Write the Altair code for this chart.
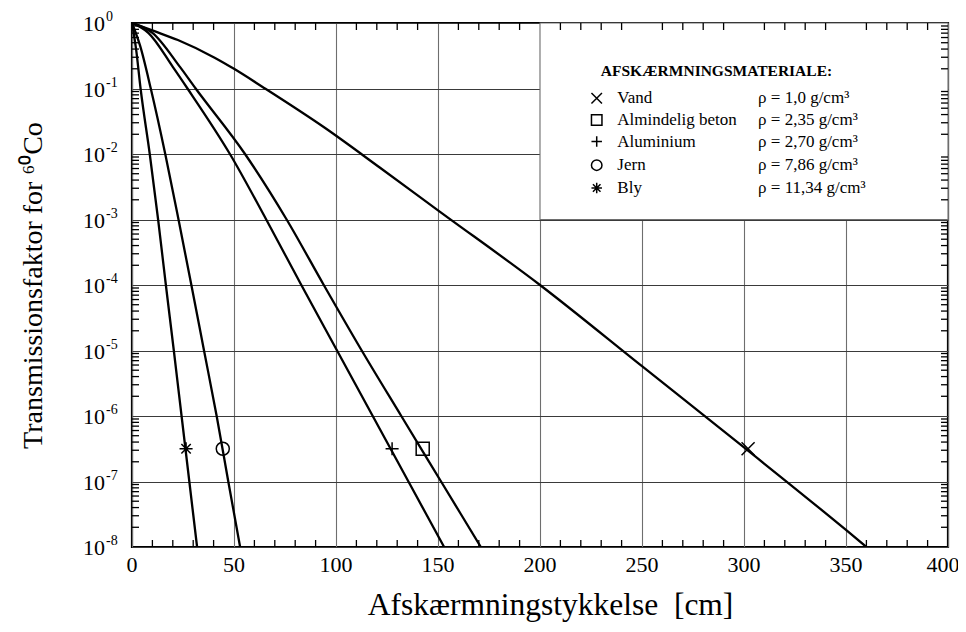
import altair as alt
import pandas as pd

# ---------------- data ----------------
materials = ["Vand", "Almindelig beton", "Aluminium", "Jern", "Bly"]
densities = ["ρ = 1,0 g/cm³", "ρ = 2,35 g/cm³", "ρ = 2,70 g/cm³",
             "ρ = 7,86 g/cm³", "ρ = 11,34 g/cm³"]

# thickness [cm] and log10(transmission)
vand_x = [0, 11, 22.5, 40.5, 50, 64.2, 94.5, 121.6, 150, 200, 250, 300, 350, 360]
vand_log = [0, -0.125, -0.26, -0.53, -0.7, -0.98, -1.6, -2.21, -2.86, -4, -5.24, -6.48, -7.74, -8]

beton_x = [0, 10, 23.5, 31.2, 55.4, 75.8, 94, 112.6, 132, 151.5, 171]
beton_log = [0, -0.15, -0.67, -1, -2, -3, -4, -5, -6, -7, -8]

alu_x = [0, 8, 20, 27.2, 48, 65.8, 83, 100.5, 118, 135.5, 153]
alu_log = [0, -0.15, -0.67, -1, -2, -3, -4, -5, -6, -7, -8]

jern_x = [0, 4, 9.2, 16.3, 22.8, 29.1, 35.3, 41.5, 47.2, 53]
jern_log = [0, -0.35, -1, -2, -3, -4, -5, -6, -7, -8]

bly_x = [0, 2, 4.2, 8.7, 12.8, 16.6, 20.5, 24.3, 28.1, 31.9]
bly_log = [0, -0.4, -1, -2, -3, -4, -5, -6, -7, -8]

marker_x = [302, 142.5, 127.5, 44.5, 26.5]
marker_log = [-6.5, -6.5, -6.5, -6.5, -6.5]

x_ticks = [0, 50, 100, 150, 200, 250, 300, 350, 400]
x_minor = [v for v in range(10, 400, 10) if v % 50 != 0]
y_decades = [0, -1, -2, -3, -4, -5, -6, -7, -8]
y_label_base = ["10"] * 9
y_label_exp = ["0", "-1", "-2", "-3", "-4", "-5", "-6", "-7", "-8"]

# legend placement in data coordinates (cm, log10 T)
leg_title_pos = (286.5, -0.74)
leg_sym_x = 227.8
leg_name_x = 237.9
leg_rho_x = 306.9
leg_rows_log = [-1.15, -1.48, -1.81, -2.17, -2.52]

# ---------------- tables ----------------
series = {"Vand": (vand_x, vand_log), "Almindelig beton": (beton_x, beton_log),
          "Aluminium": (alu_x, alu_log), "Jern": (jern_x, jern_log),
          "Bly": (bly_x, bly_log)}
rows = []
for m, (xs, ls) in series.items():
    for i, (xv, lv) in enumerate(zip(xs, ls)):
        rows.append({"material": m, "x": xv, "T": 10 ** lv, "order": i})
lines_df = pd.DataFrame(rows)

markers_df = pd.DataFrame({"material": materials, "x": marker_x,
                           "T": [10 ** v for v in marker_log]})

legend_df = pd.DataFrame({"material": materials, "rho": densities,
                          "T": [10 ** v for v in leg_rows_log],
                          "xs": [leg_sym_x] * 5, "xn": [leg_name_x] * 5,
                          "xr": [leg_rho_x] * 5})

minor_y = []
for d in y_decades[1:]:
    for k in range(2, 10):
        minor_y.append(k * 10 ** d)
yt_df = pd.DataFrame({"T": minor_y})
xt_df = pd.DataFrame({"x": x_minor})
box_df = pd.DataFrame({"x": [200], "x2": [400], "T": [1e-3], "T2": [1.0]})
title_df = pd.DataFrame({"x": [leg_title_pos[0]], "T": [10 ** leg_title_pos[1]],
                         "t": ["AFSKÆRMNINGSMATERIALE:"]})
xlab_df = pd.DataFrame({"x": x_ticks[:-1], "t": [str(v) for v in x_ticks[:-1]]})
xlab_last_df = pd.DataFrame({"x": x_ticks[-1:], "t": [str(v) for v in x_ticks[-1:]]})
ylab_df = pd.DataFrame({"T": [10 ** d for d in y_decades], "base": y_label_base,
                        "exp": y_label_exp})

# ---------------- scales / axes ----------------
FONT = "Liberation Serif"
W, H = 816, 524
xscale = alt.Scale(domain=[0, 400], nice=False, zero=False)
yscale = alt.Scale(type="log", domain=[1e-8, 1], nice=False)

xaxis = alt.Axis(values=x_ticks, grid=True, gridColor="#6e6e6e", gridWidth=1.1,
                 ticks=False, domain=False, labels=False,
                 title="Afskærmningstykkelse\u00a0 [cm]", titleFont=FONT,
                 titleFontSize=31.5, titleFontWeight="normal", titleColor="black",
                 titleX=W / 2 + 10, titleY=58, titleBaseline="middle",
                 titleAlign="center")
yaxis = alt.Axis(values=[10 ** d for d in y_decades], grid=True, gridColor="#3a3a3a",
                 gridWidth=1.1, ticks=False, domain=False, labels=False,
                 title="Transmissionsfaktor for ⁶⁰Co", titleFont=FONT,
                 titleFontSize=28, titleFontWeight="normal", titleColor="black",
                 titleAngle=270, titleX=-99, titleY=H / 2, titleAlign="center",
                 titleBaseline="middle")


def X(f):
    return alt.X(f, type="quantitative", scale=xscale, axis=xaxis)


def Y(f):
    return alt.Y(f, type="quantitative", scale=yscale, axis=yaxis)


shapes = ["M-1,-1L1,1M-1,1L1,-1", "square", "M-1,0L1,0M0,-1L0,1", "circle",
          "M-1,0L1,0M0,-1L0,1M-0.72,-0.72L0.72,0.72M-0.72,0.72L0.72,-0.72"]
shape_enc = alt.Shape("material:N", scale=alt.Scale(domain=materials, range=shapes),
                      legend=None)

box = alt.Chart(box_df).mark_rect(fill="white", stroke="#6e6e6e", strokeWidth=1.1).encode(
    x=X("x"), x2="x2", y=Y("T"), y2="T2")

xt_bottom = alt.Chart(xt_df).mark_rule(color="black", strokeWidth=1.3).encode(
    x=X("x"), y=alt.value(H), y2=alt.value(H - 7))
xt_top = alt.Chart(xt_df).mark_rule(color="black", strokeWidth=1.3).encode(
    x=X("x"), y=alt.value(0), y2=alt.value(7))
yt_left = alt.Chart(yt_df).mark_rule(color="black", strokeWidth=1.3).encode(
    y=Y("T"), x=alt.value(0), x2=alt.value(7))
yt_right = alt.Chart(yt_df).mark_rule(color="black", strokeWidth=1.3).encode(
    y=Y("T"), x=alt.value(W), x2=alt.value(W - 7))

# tick labels as serif text
xlab = alt.Chart(xlab_df).mark_text(font=FONT, fontSize=22, align="center",
                                    baseline="middle", color="black").encode(
    x=X("x"), y=alt.value(H + 18), text="t:N")
xlab_last = alt.Chart(xlab_last_df).mark_text(font=FONT, fontSize=22, align="center",
                                              baseline="middle", color="black",
                                              dx=-5).encode(
    x=X("x"), y=alt.value(H + 18), text="t:N")
ylab_base = alt.Chart(ylab_df).mark_text(font=FONT, fontSize=22, align="right",
                                         baseline="middle", color="black", dy=1).encode(
    y=Y("T"), x=alt.value(-27), text="base:N")
ylab_exp = alt.Chart(ylab_df).mark_text(font=FONT, fontSize=14, align="left",
                                        baseline="middle", color="black", dy=-6).encode(
    y=Y("T"), x=alt.value(-26), text="exp:N")

lines = alt.Chart(lines_df).mark_line(color="black", strokeWidth=2.3,
                                      interpolate="monotone", clip=True).encode(
    x=X("x"), y=Y("T"), detail="material:N", order="order:Q")

marks = alt.Chart(markers_df).mark_point(filled=False, color="black", strokeWidth=1.5,
                                         size=170, opacity=1).encode(
    x=X("x"), y=Y("T"), shape=shape_enc)

leg_title = alt.Chart(title_df).mark_text(font=FONT, fontSize=15.5, fontWeight="bold",
                                          align="center", baseline="middle",
                                          color="black").encode(
    x=X("x"), y=Y("T"), text="t:N")
leg_sym = alt.Chart(legend_df).mark_point(filled=False, color="black", strokeWidth=1.5,
                                          size=110, opacity=1).encode(
    x=X("xs"), y=Y("T"), shape=shape_enc)
leg_name = alt.Chart(legend_df).mark_text(font=FONT, fontSize=17, align="left",
                                          baseline="middle", color="black").encode(
    x=X("xn"), y=Y("T"), text="material:N")
leg_rho = alt.Chart(legend_df).mark_text(font=FONT, fontSize=17, align="left",
                                         baseline="middle", color="black").encode(
    x=X("xr"), y=Y("T"), text="rho:N")

chart = alt.layer(box, xt_bottom, xt_top, yt_left, yt_right, xlab, xlab_last,
                  ylab_base, ylab_exp, lines, marks,
                  leg_title, leg_sym, leg_name, leg_rho).properties(
    width=W, height=H,
    autosize=alt.AutoSizeParams(type="none"),
    padding={"left": 124, "top": 15, "right": 10, "bottom": 77},
    background="white",
).configure(font=FONT).configure_axis(
    titleFont=FONT
).configure_view(stroke="black", strokeWidth=2.2)

chart.save("out.html", embed_options={"renderer": "svg", "actions": False})
